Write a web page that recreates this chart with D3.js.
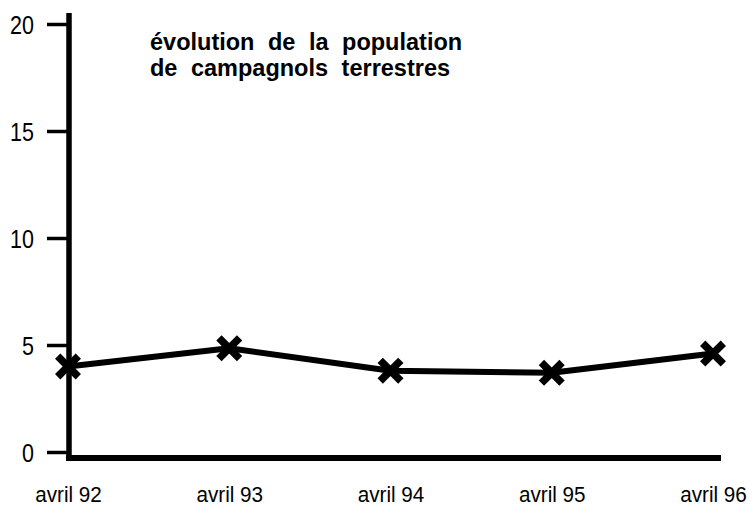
<!DOCTYPE html>
<html>
<head>
<meta charset="utf-8">
<script src="https://cdn.jsdelivr.net/npm/d3@7"></script>
<style>
  body { margin: 0; background: #fff; }
  svg { display: block; }
  text { font-family: "Liberation Sans", Arial, sans-serif; fill: #000; }
</style>
</head>
<body>
<svg id="chart" width="756" height="509"></svg>
<script>
// Chart data
const periods = ['avril 92', 'avril 93', 'avril 94', 'avril 95', 'avril 96'];
const population = [4.0, 4.85, 3.8, 3.7, 4.6];
const yTicks = [0, 5, 10, 15, 20];
const titleLines = ['évolution de la population', 'de campagnols terrestres'];

const svg = d3.select('#chart');

// Scales: x from the y axis to the last point, y from 0 to 20
const xScale = d3.scalePoint()
  .domain(periods)
  .range([68, 713]);
const yScale = d3.scaleLinear()
  .domain([0, 20])
  .range([452, 24]);

// Vertical axis (long thick spine, short ticks on the left)
const yAxis = d3.axisLeft(yScale)
  .tickValues(yTicks)
  .tickSize(22);
const yAxisG = svg.append('g')
  .attr('transform', 'translate(69,0)')
  .call(yAxis);
yAxisG.select('.domain').remove();
yAxisG.selectAll('.tick line')
  .attr('stroke', '#000')
  .attr('stroke-width', 3.5);
// labels a little narrower than the font, like the original print
const squeeze = 0.86;
yAxisG.selectAll('.tick text')
  .attr('font-size', 25)
  .attr('x', -35 / squeeze)
  .attr('dy', '0.36em')
  .attr('transform', `scale(${squeeze},1)`);
svg.append('line')
  .attr('x1', 69).attr('x2', 69)
  .attr('y1', 13).attr('y2', 460)
  .attr('stroke', '#000')
  .attr('stroke-width', 5.5);

// Horizontal axis: thick line slightly below zero, labels only
svg.append('line')
  .attr('x1', 66).attr('x2', 721)
  .attr('y1', yScale(0) + 6).attr('y2', yScale(0) + 6)
  .attr('stroke', '#000')
  .attr('stroke-width', 6);
const xAxis = d3.axisBottom(xScale).tickSize(0).tickPadding(0);
const xAxisG = svg.append('g')
  .attr('transform', 'translate(0,487)')
  .call(xAxis);
xAxisG.select('.domain').remove();
xAxisG.selectAll('.tick text')
  .attr('font-size', 22)
  .attr('dy', '0.7em')
  .attr('transform', 'scale(0.94,1)');

// Population line
const lineGen = d3.line()
  .x((d, i) => xScale(periods[i]))
  .y(d => yScale(d));
svg.append('path')
  .datum(population)
  .attr('d', lineGen)
  .attr('fill', 'none')
  .attr('stroke', '#000')
  .attr('stroke-width', 6)
  .attr('stroke-linejoin', 'round');

// Cross markers at each survey
const marker = d3.symbol().type(d3.symbolTimes).size(280);
svg.selectAll('path.marker')
  .data(population)
  .join('path')
  .attr('class', 'marker')
  .attr('transform', (d, i) => `translate(${xScale(periods[i])},${yScale(d)})`)
  .attr('d', marker)
  .attr('fill', 'none')
  .attr('stroke', '#000')
  .attr('stroke-width', 7.5);

// Title, two bold lines
svg.append('text')
  .attr('font-weight', 'bold')
  .attr('font-size', 23.5)
  .selectAll('tspan')
  .data(titleLines)
  .join('tspan')
  .attr('x', 150)
  .attr('y', (d, i) => 50 + i * 26)
  .attr('word-spacing', 7)
  .text(d => d);
</script>
</body>
</html>
